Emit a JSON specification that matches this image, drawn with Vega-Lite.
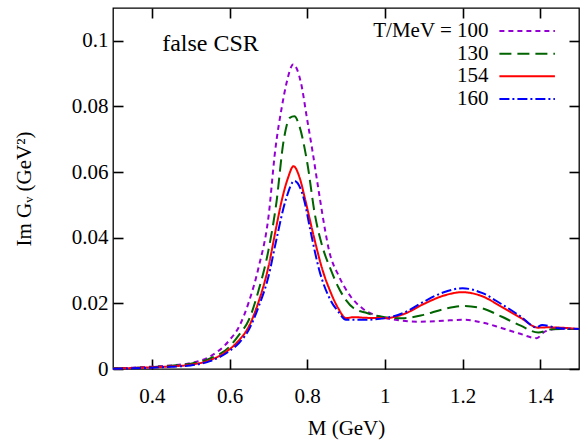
{
  "$schema": "https://vega.github.io/schema/vega-lite/v6.json",
  "autosize": {"type": "none"},
  "padding": {"left": 113, "top": 8, "right": 1, "bottom": 72},
  "width": 466,
  "height": 361,
  "config": {
    "font": "Liberation Serif",
    "view": {"stroke": "black", "strokeWidth": 1.3},
    "axis": {
      "grid": false,
      "domain": false,
      "ticks": true,
      "tickColor": "#000000",
      "tickOpacity": 1,
      "tickWidth": 1.6,
      "tickSize": 10,
      "offset": -10,
      "zindex": 1,
      "labelColor": "black",
      "titleColor": "black",
      "labelFont": "Liberation Serif",
      "titleFont": "Liberation Serif",
      "labelFontSize": 21,
      "titleFontSize": 21,
      "titleFontWeight": "normal"
    }
  },
  "datasets": {
    "curves": [
      {"T": "100", "M": 0.3, "G": 0.0002}, {"T": "100", "M": 0.35, "G": 0.0004}, {"T": "100", "M": 0.4, "G": 0.0007}, {"T": "100", "M": 0.45, "G": 0.0011}, {"T": "100", "M": 0.5, "G": 0.0018}, {"T": "100", "M": 0.55, "G": 0.0038}, {"T": "100", "M": 0.6, "G": 0.0088}, {"T": "100", "M": 0.625, "G": 0.013}, {"T": "100", "M": 0.65, "G": 0.0205}, {"T": "100", "M": 0.675, "G": 0.031}, {"T": "100", "M": 0.7, "G": 0.046}, {"T": "100", "M": 0.718, "G": 0.0669}, {"T": "100", "M": 0.735, "G": 0.08}, {"T": "100", "M": 0.747, "G": 0.0872}, {"T": "100", "M": 0.764, "G": 0.0928}, {"T": "100", "M": 0.784, "G": 0.0872}, {"T": "100", "M": 0.8, "G": 0.076}, {"T": "100", "M": 0.813, "G": 0.0669}, {"T": "100", "M": 0.83, "G": 0.054}, {"T": "100", "M": 0.846, "G": 0.0424}, {"T": "100", "M": 0.856, "G": 0.0363}, {"T": "100", "M": 0.882, "G": 0.0282}, {"T": "100", "M": 0.912, "G": 0.0221}, {"T": "100", "M": 0.942, "G": 0.0185}, {"T": "100", "M": 0.985, "G": 0.016}, {"T": "100", "M": 1.027, "G": 0.015}, {"T": "100", "M": 1.087, "G": 0.0144}, {"T": "100", "M": 1.15, "G": 0.0147}, {"T": "100", "M": 1.2, "G": 0.015}, {"T": "100", "M": 1.25, "G": 0.0142}, {"T": "100", "M": 1.3, "G": 0.0125}, {"T": "100", "M": 1.344, "G": 0.0109}, {"T": "100", "M": 1.391, "G": 0.0094}, {"T": "100", "M": 1.412, "G": 0.0114}, {"T": "100", "M": 1.446, "G": 0.0122}, {"T": "100", "M": 1.5, "G": 0.0122},
      {"T": "130", "M": 0.3, "G": 0.0002}, {"T": "130", "M": 0.35, "G": 0.0003}, {"T": "130", "M": 0.4, "G": 0.0006}, {"T": "130", "M": 0.45, "G": 0.001}, {"T": "130", "M": 0.5, "G": 0.0016}, {"T": "130", "M": 0.55, "G": 0.0032}, {"T": "130", "M": 0.6, "G": 0.0068}, {"T": "130", "M": 0.625, "G": 0.0105}, {"T": "130", "M": 0.65, "G": 0.015}, {"T": "130", "M": 0.675, "G": 0.024}, {"T": "130", "M": 0.7, "G": 0.036}, {"T": "130", "M": 0.72, "G": 0.05}, {"T": "130", "M": 0.74, "G": 0.07}, {"T": "130", "M": 0.755, "G": 0.0765}, {"T": "130", "M": 0.767, "G": 0.077}, {"T": "130", "M": 0.78, "G": 0.074}, {"T": "130", "M": 0.8, "G": 0.063}, {"T": "130", "M": 0.82, "G": 0.047}, {"T": "130", "M": 0.84, "G": 0.037}, {"T": "130", "M": 0.86, "G": 0.0305}, {"T": "130", "M": 0.88, "G": 0.025}, {"T": "130", "M": 0.9, "G": 0.021}, {"T": "130", "M": 0.92, "G": 0.0185}, {"T": "130", "M": 0.95, "G": 0.0172}, {"T": "130", "M": 1.0, "G": 0.0158}, {"T": "130", "M": 1.05, "G": 0.0155}, {"T": "130", "M": 1.1, "G": 0.0165}, {"T": "130", "M": 1.15, "G": 0.0182}, {"T": "130", "M": 1.2, "G": 0.0192}, {"T": "130", "M": 1.25, "G": 0.0185}, {"T": "130", "M": 1.3, "G": 0.016}, {"T": "130", "M": 1.35, "G": 0.0132}, {"T": "130", "M": 1.395, "G": 0.0111}, {"T": "130", "M": 1.43, "G": 0.0121}, {"T": "130", "M": 1.5, "G": 0.0122},
      {"T": "154", "M": 0.3, "G": 0.0001}, {"T": "154", "M": 0.35, "G": 0.0003}, {"T": "154", "M": 0.4, "G": 0.0005}, {"T": "154", "M": 0.45, "G": 0.0008}, {"T": "154", "M": 0.5, "G": 0.0013}, {"T": "154", "M": 0.55, "G": 0.0027}, {"T": "154", "M": 0.6, "G": 0.006}, {"T": "154", "M": 0.625, "G": 0.0088}, {"T": "154", "M": 0.65, "G": 0.013}, {"T": "154", "M": 0.675, "G": 0.0205}, {"T": "154", "M": 0.7, "G": 0.031}, {"T": "154", "M": 0.72, "G": 0.043}, {"T": "154", "M": 0.735, "G": 0.0516}, {"T": "154", "M": 0.75, "G": 0.058}, {"T": "154", "M": 0.765, "G": 0.0618}, {"T": "154", "M": 0.78, "G": 0.0585}, {"T": "154", "M": 0.795, "G": 0.0516}, {"T": "154", "M": 0.813, "G": 0.0424}, {"T": "154", "M": 0.84, "G": 0.03}, {"T": "154", "M": 0.86, "G": 0.0235}, {"T": "154", "M": 0.88, "G": 0.0185}, {"T": "154", "M": 0.9, "G": 0.0155}, {"T": "154", "M": 0.92, "G": 0.0158}, {"T": "154", "M": 0.95, "G": 0.0156}, {"T": "154", "M": 1.0, "G": 0.0155}, {"T": "154", "M": 1.05, "G": 0.0168}, {"T": "154", "M": 1.1, "G": 0.0198}, {"T": "154", "M": 1.15, "G": 0.0223}, {"T": "154", "M": 1.2, "G": 0.0234}, {"T": "154", "M": 1.25, "G": 0.0222}, {"T": "154", "M": 1.3, "G": 0.019}, {"T": "154", "M": 1.35, "G": 0.0156}, {"T": "154", "M": 1.395, "G": 0.0126}, {"T": "154", "M": 1.42, "G": 0.0127}, {"T": "154", "M": 1.5, "G": 0.0122},
      {"T": "160", "M": 0.3, "G": 0.0001}, {"T": "160", "M": 0.35, "G": 0.0002}, {"T": "160", "M": 0.4, "G": 0.0004}, {"T": "160", "M": 0.45, "G": 0.0007}, {"T": "160", "M": 0.5, "G": 0.0011}, {"T": "160", "M": 0.55, "G": 0.0024}, {"T": "160", "M": 0.6, "G": 0.0055}, {"T": "160", "M": 0.625, "G": 0.008}, {"T": "160", "M": 0.65, "G": 0.012}, {"T": "160", "M": 0.675, "G": 0.019}, {"T": "160", "M": 0.7, "G": 0.028}, {"T": "160", "M": 0.72, "G": 0.039}, {"T": "160", "M": 0.745, "G": 0.0516}, {"T": "160", "M": 0.767, "G": 0.0573}, {"T": "160", "M": 0.792, "G": 0.0516}, {"T": "160", "M": 0.808, "G": 0.0424}, {"T": "160", "M": 0.831, "G": 0.0302}, {"T": "160", "M": 0.86, "G": 0.021}, {"T": "160", "M": 0.88, "G": 0.0175}, {"T": "160", "M": 0.9, "G": 0.015}, {"T": "160", "M": 0.92, "G": 0.015}, {"T": "160", "M": 0.95, "G": 0.015}, {"T": "160", "M": 1.0, "G": 0.0155}, {"T": "160", "M": 1.05, "G": 0.0172}, {"T": "160", "M": 1.1, "G": 0.0205}, {"T": "160", "M": 1.15, "G": 0.0233}, {"T": "160", "M": 1.2, "G": 0.0246}, {"T": "160", "M": 1.25, "G": 0.0232}, {"T": "160", "M": 1.3, "G": 0.0198}, {"T": "160", "M": 1.35, "G": 0.016}, {"T": "160", "M": 1.39, "G": 0.0127}, {"T": "160", "M": 1.405, "G": 0.0134}, {"T": "160", "M": 1.45, "G": 0.0124}, {"T": "160", "M": 1.5, "G": 0.0122}
    ],
    "legendRows": [
      {"T": "100", "label": "T/MeV = 100"},
      {"T": "130", "label": "130"},
      {"T": "154", "label": "154"},
      {"T": "160", "label": "160"}
    ]
  },
  "layer": [
    {
      "data": {"name": "curves"},
      "mark": {"type": "line", "strokeWidth": 2, "interpolate": "monotone"},
      "encoding": {
        "x": {"field": "M", "type": "quantitative", "scale": {"domain": [0.3, 1.5], "nice": false, "zero": false},
              "axis": {"orient": "bottom", "values": [0.4, 0.6, 0.8, 1, 1.2, 1.4], "format": "~g", "labelPadding": 16, "title": "M (GeV)", "titlePadding": 11}},
        "y": {"field": "G", "type": "quantitative", "scale": {"domain": [0, 0.11], "nice": false},
              "axis": {"orient": "left", "values": [0, 0.02, 0.04, 0.06, 0.08, 0.1], "format": "~g", "labelPadding": 5, "title": "Im Gᵥ (GeV²)", "titlePadding": 37}},
        "color": {"field": "T", "type": "nominal", "scale": {"domain": ["100", "130", "154", "160"], "range": ["#9400D3", "#006400", "#FF0000", "#0000FF"]}, "legend": null},
        "strokeDash": {"field": "T", "type": "nominal", "scale": {"domain": ["100", "130", "154", "160"], "range": [[5, 4], [12, 6], [1, 0], [10, 3, 2, 3]]}, "legend": null}
      }
    },
    {
      "data": {"values": [{}]},
      "mark": {"type": "text", "text": "false CSR", "fontSize": 24, "font": "Liberation Serif", "align": "center", "baseline": "middle", "color": "black"},
      "encoding": {
        "x": {"datum": 0.551, "type": "quantitative", "scale": {"domain": [0.3, 1.5], "nice": false, "zero": false},
              "axis": {"orient": "top", "values": [0.4, 0.6, 0.8, 1, 1.2, 1.4], "labels": false, "title": null}},
        "y": {"datum": 0.099, "type": "quantitative", "scale": {"domain": [0, 0.11], "nice": false},
              "axis": {"orient": "right", "values": [0, 0.02, 0.04, 0.06, 0.08, 0.1], "labels": false, "title": null}}
      }
    },
    {
      "data": {"name": "legendRows"},
      "mark": {"type": "rule", "strokeWidth": 2},
      "encoding": {
        "x": {"datum": 1.295, "type": "quantitative", "axis": null},
        "x2": {"datum": 1.438},
        "y": {"field": "T", "type": "nominal", "scale": {"type": "point", "padding": 0, "domain": ["100", "130", "154", "160"], "range": [23, 91]}, "axis": null},
        "color": {"field": "T", "type": "nominal", "legend": null},
        "strokeDash": {"field": "T", "type": "nominal", "legend": null}
      }
    },
    {
      "data": {"name": "legendRows"},
      "mark": {"type": "text", "align": "right", "baseline": "middle", "fontSize": 21, "font": "Liberation Serif", "color": "black"},
      "encoding": {
        "x": {"datum": 1.267, "type": "quantitative", "axis": null},
        "y": {"field": "T", "type": "nominal", "scale": {"type": "point", "padding": 0, "domain": ["100", "130", "154", "160"], "range": [23, 91]}, "axis": null},
        "text": {"field": "label"}
      }
    }
  ],
  "resolve": {"scale": {"y": "independent"}, "axis": {"x": "independent", "y": "independent"}}
}
